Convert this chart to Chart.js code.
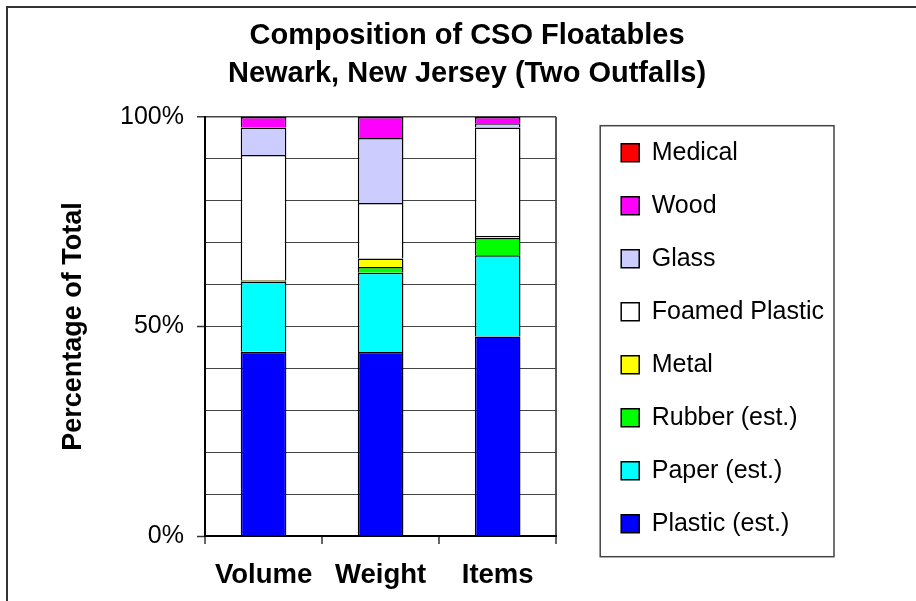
<!DOCTYPE html>
<html>
<head>
<meta charset="utf-8">
<script src="https://cdn.jsdelivr.net/npm/chart.js@4.4.1/dist/chart.umd.min.js"></script>
<style>
  html, body { margin: 0; padding: 0; background: #fff; overflow: hidden; }
  canvas { display: block; }
</style>
</head>
<body>
<canvas id="chart" width="916" height="601"></canvas>
<script>
// Share of each floatables class, percent of total per measure
const categories = ['Volume', 'Weight', 'Items'];
const plastic       = [44.0, 43.9, 47.6];
const paper         = [16.7, 18.9, 19.4];
const rubber        = [0.2, 1.4, 4.1];
const metal         = [0.2, 2.0, 0.5];
const foamedPlastic = [29.8, 13.3, 25.9];
const glass         = [6.6, 15.5, 1.0];
const wood          = [2.5, 5.0, 1.5];
const medical       = [0, 0, 0];

const seriesNames = ['Plastic (est.)', 'Paper (est.)', 'Rubber (est.)', 'Metal',
                     'Foamed Plastic', 'Glass', 'Wood', 'Medical'];
const seriesValues = [plastic, paper, rubber, metal, foamedPlastic, glass, wood, medical];
const seriesColors = ['#0000FF', '#00FFFF', '#00FF00', '#FFFF00',
                      '#FFFFFF', '#CCCCFF', '#FF00FF', '#FF0000'];

const labelledTicks = [0, 50, 100];
const titleLines = ['Composition of CSO Floatables', 'Newark, New Jersey (Two Outfalls)'];
const yAxisTitle = 'Percentage of Total';

const FAMILY = 'Arial, "Liberation Sans", sans-serif';

// Outer frame of the figure and the box around the legend
const framePlugin = {
  id: 'frame',
  afterDraw(chart) {
    const ctx = chart.ctx;
    ctx.save();
    ctx.strokeStyle = '#333';
    ctx.lineWidth = 2;
    ctx.beginPath();
    ctx.moveTo(7, chart.height + 5);
    ctx.lineTo(7, 7);
    ctx.lineTo(chart.width + 5, 7);
    ctx.stroke();

    const boxes = chart.legend && chart.legend.legendHitBoxes;
    if (boxes && boxes.length) {
      const first = boxes[0];
      const last = boxes[boxes.length - 1];
      const left = Math.min(...boxes.map(b => b.left)) - 21;
      const right = Math.max(...boxes.map(b => b.left + b.width)) + 10;
      const top = first.top - 14.6;
      const bottom = last.top + last.height + 20.4;
      ctx.lineWidth = 1.5;
      ctx.strokeStyle = '#444';
      ctx.strokeRect(left, top, right - left, bottom - top);
    }
    ctx.restore();
  }
};

new Chart(document.getElementById('chart'), {
  type: 'bar',
  data: {
    labels: categories,
    datasets: seriesNames.map((name, i) => ({
      label: name,
      data: seriesValues[i],
      backgroundColor: seriesColors[i],
      borderColor: '#000',
      borderWidth: 1.5
    }))
  },
  options: {
    responsive: false,
    animation: false,
    devicePixelRatio: 1,
    layout: { padding: { left: 18, top: 8, right: 0, bottom: 0 } },
    datasets: { bar: { barPercentage: 0.39, categoryPercentage: 1 } },
    plugins: {
      title: {
        display: true,
        text: titleLines,
        color: '#000',
        font: { family: FAMILY, size: 29, weight: 'bold', lineHeight: 1.31 },
        padding: { top: 9, bottom: 24 }
      },
      legend: {
        position: 'right',
        fullSize: true,
        align: 'start',
        reverse: true,
        maxWidth: 400,
        title: { display: true, text: '', font: { family: FAMILY, size: 10 }, padding: { top: 92.3, bottom: 0 } },
        labels: {
          boxWidth: 18,
          boxHeight: 18,
          padding: 28,
          color: '#000',
          font: { family: FAMILY, size: 25 }
        }
      },
      tooltip: { enabled: false }
    },
    scales: {
      x: {
        stacked: true,
        grid: {
          offset: true,
          drawOnChartArea: true,
          color: c => (c.type === 'tick' ? 'rgba(0,0,0,0)' : '#555'),
          lineWidth: 2,
          tickLength: 8,
          tickColor: '#333',
          tickWidth: 1.5
        },
        border: { color: '#000', width: 2 },
        ticks: {
          color: '#000',
          padding: 15,
          font: { family: FAMILY, size: 27.5, weight: 'bold' }
        },
        afterFit: s => { s.height = 65; }
      },
      y: {
        stacked: true,
        min: 0,
        max: 100,
        ticks: {
          stepSize: 10,
          color: '#000',
          padding: 13,
          font: { family: FAMILY, size: 25 },
          callback: v => (labelledTicks.includes(v) ? v + '%' : '')
        },
        grid: {
          color: '#444',
          lineWidth: c => (c.tick && c.tick.value === 100 ? 1.5 : 1),
          tickLength: 8,
          tickWidth: 1.5,
          tickColor: c => (c.tick && labelledTicks.includes(c.tick.value) ? '#333' : 'rgba(0,0,0,0)')
        },
        border: { color: '#000', width: 2 },
        title: {
          display: true,
          text: yAxisTitle,
          color: '#000',
          font: { family: FAMILY, size: 27, weight: 'bold' },
          padding: { top: 39, bottom: 0 }
        },
        afterFit: s => { s.width = 187; }
      },
      gapRight: {
        axis: 'y',
        type: 'linear',
        position: 'right',
        display: false,
        afterFit: s => { s.width = 37; }
      },
      marginRight: {
        axis: 'y',
        type: 'linear',
        position: 'right',
        display: false,
        weight: 2000,
        afterFit: s => { s.width = 82; }
      }
    }
  },
  plugins: [framePlugin]
});
</script>
</body>
</html>
